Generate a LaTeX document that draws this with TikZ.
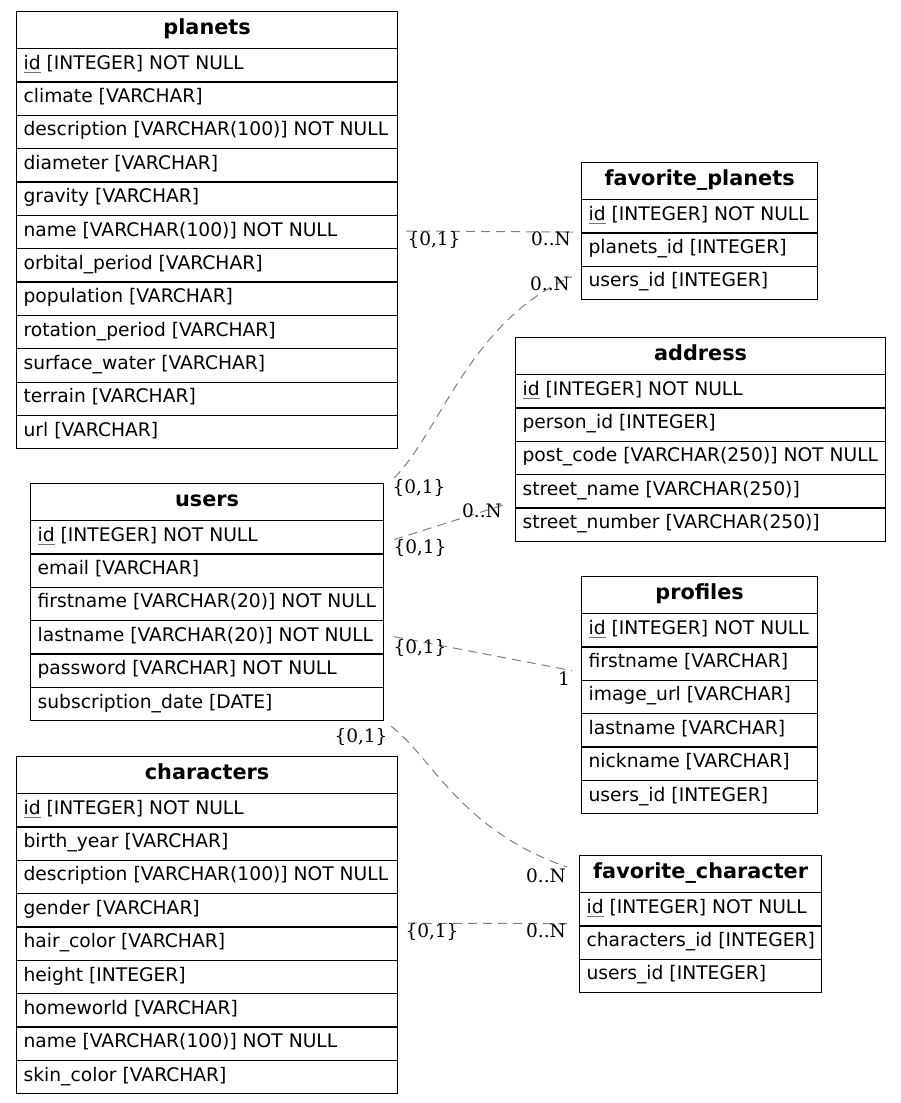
\documentclass[tikz,border=0pt]{standalone}
\usepackage{fontspec}
\setmainfont{DejaVu Sans}
\newfontfamily\lblfont{DejaVu Serif}
\usetikzlibrary{calc}
\newcommand\pk[1]{\setbox0=\hbox{#1}\rlap{\color{black!55}\rule[-4pt]{\wd0}{1pt}}\box0\relax}
\newcommand\ertable[6]{%
  \pgfmathsetmacro\ertw{#4-14}%
  \node[hdr, minimum width=#4pt, anchor=north west] (#1) at (#2,#3) {#5};
  \foreach \r [count=\i] in {#6} {
    \node[fieldrow, minimum width=#4pt, anchor=north west] (#1-\i) at (#2,{#3+37+(\i-1)*33.35}) {\makebox[\ertw pt][l]{\r}};
  }
}
\tikzset{
 hdr/.style={draw, line width=1.2pt, minimum height=37pt, inner sep=0pt, text height=14pt, text depth=5pt, font=\fontsize{20.8}{24}\selectfont\bfseries},
 fieldrow/.style={draw, line width=1.2pt, minimum height=33.35pt, inner xsep=7pt, inner ysep=0pt, text height=12.5pt, text depth=4.5pt, font=\fontsize{18.7}{22}\selectfont},
 rel/.style={draw=gray, line width=1pt, dash pattern=on 9pt off 6pt},
 card/.style={anchor=base, inner sep=0pt, font=\lblfont\fontsize{18.5}{22}\selectfont},
}
\begin{document}
\begin{tikzpicture}[x=1pt,y=-1pt]
\fill[white] (0,0) rectangle (900,1103);
\useasboundingbox (0,0) rectangle (900,1103);

\ertable{planets}{16}{11}{381}{planets}{
  \pk{id} [INTEGER] NOT NULL,
  climate [VARCHAR],
  description [VARCHAR(100)] NOT NULL,
  diameter [VARCHAR],
  gravity [VARCHAR],
  name [VARCHAR(100)] NOT NULL,
  orbital\_period [VARCHAR],
  population [VARCHAR],
  rotation\_period [VARCHAR],
  surface\_water [VARCHAR],
  terrain [VARCHAR],
  url [VARCHAR]}

\ertable{fp}{581}{162}{236}{favorite\_planets}{
  \pk{id} [INTEGER] NOT NULL,
  planets\_id [INTEGER],
  users\_id [INTEGER]}

\ertable{address}{515}{337}{370}{address}{
  \pk{id} [INTEGER] NOT NULL,
  person\_id [INTEGER],
  post\_code [VARCHAR(250)] NOT NULL,
  street\_name [VARCHAR(250)],
  street\_number [VARCHAR(250)]}

\ertable{users}{30}{483}{353}{users}{
  \pk{id} [INTEGER] NOT NULL,
  email [VARCHAR],
  firstname [VARCHAR(20)] NOT NULL,
  lastname [VARCHAR(20)] NOT NULL,
  password [VARCHAR] NOT NULL,
  subscription\_date [DATE]}

\ertable{profiles}{581}{576}{236}{profiles}{
  \pk{id} [INTEGER] NOT NULL,
  firstname [VARCHAR],
  image\_url [VARCHAR],
  lastname [VARCHAR],
  nickname [VARCHAR],
  users\_id [INTEGER]}

\ertable{characters}{16}{756}{381}{characters}{
  \pk{id} [INTEGER] NOT NULL,
  birth\_year [VARCHAR],
  description [VARCHAR(100)] NOT NULL,
  gender [VARCHAR],
  hair\_color [VARCHAR],
  height [INTEGER],
  homeworld [VARCHAR],
  name [VARCHAR(100)] NOT NULL,
  skin\_color [VARCHAR]}

\ertable{fc}{579}{855}{242}{favorite\_character}{
  \pk{id} [INTEGER] NOT NULL,
  characters\_id [INTEGER],
  users\_id [INTEGER]}

% connectors
\draw[rel] ($(planets-6.east)+(8,-1)$) -- ($(fp-1.south west)+(-8,-1.5)$);
\draw[rel] ($(users.north east)+(10,-5)$) .. controls +(47,-48) and +(-102,44) .. ($(fp-3.west)+(-9,-6.4)$);
\draw[rel] ($(users-1.east)+(10,2.3)$) -- ($(address-4.south west)+(-9,-4.4)$);
\draw[rel] ($(users-4.east)+(10,-0.7)$) -- ($(profiles-2.west)+(-9,7)$);
\draw[rel] ($(users-6.south east)+(7,5)$) .. controls +(40,30) and +(-107,-37) .. ($(fc.north west)+(-12,12)$);
\draw[rel] ($(characters-4.south east)+(10,-4.4)$) -- ($(fc-1.south west)+(-11,-3)$);

% cardinality labels
\node[card] (l1a) at (434,245) {\{0,1\}};
\node[card] (l1b) at (551,245) {0..N};
\node[card] (l2a) at (419,493) {\{0,1\}};
\node[card] (l2b) at (550,290) {0..N};
\node[card] (l3a) at (420,553) {\{0,1\}};
\node[card] (l3b) at (482,517) {0..N};
\node[card] (l4a) at (420,653) {\{0,1\}};
\node[card] (l4b) at (564,685) {1};
\node[card] (l5a) at (361,742) {\{0,1\}};
\node[card] (l5b) at (546,882) {0..N};
\node[card] (l6a) at (432,937) {\{0,1\}};
\node[card] (l6b) at (546,937) {0..N};
\end{tikzpicture}
\end{document}
